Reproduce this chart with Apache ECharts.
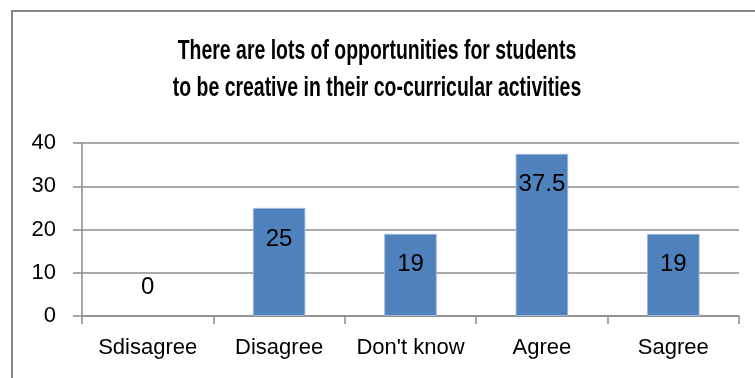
<!DOCTYPE html>
<html>
<head>
<meta charset="utf-8">
<script src="https://cdn.jsdelivr.net/npm/echarts@6/dist/echarts.min.js"></script>
<style>
  html, body { margin: 0; padding: 0; background: #fff; }
  #chart { width: 755px; height: 378px; }
</style>
</head>
<body>
<div id="chart"></div>
<script>
// Survey responses (percent)
const categories = ['Sdisagree', 'Disagree', "Don't know", 'Agree', 'Sagree'];
const percentages = [0, 25, 19, 37.5, 19];
const yTicks = [0, 10, 20, 30, 40];
const titleLines = [
  'There are lots of opportunities for students',
  'to be creative in their co-curricular activities'
];

const FONT = '"Liberation Sans", Arial, sans-serif';

const chart = echarts.init(document.getElementById('chart'), null, { renderer: 'canvas' });

// Zero-height bars get no outline; their label sits above the baseline
const barData = percentages.map(v => ({
  value: v,
  itemStyle: v === 0 ? { borderWidth: 0 } : {},
  label: v === 0
    ? { position: 'top', distance: 17 }
    : { position: 'insideTop', distance: 19 }
}));

// Condensed bold heading, one text element per line
const titleGraphics = titleLines.map((line, i) => ({
  type: 'text',
  x: 377,
  y: 52 + i * 37,
  scaleX: 0.72,
  style: {
    text: line,
    textAlign: 'center',
    textVerticalAlign: 'middle',
    fontFamily: FONT,
    fontWeight: 'bold',
    fontSize: 27,
    fill: '#000'
  },
  z: 10
}));

chart.setOption({
  animation: false,
  backgroundColor: '#fff',
  graphic: [{
    type: 'rect',
    shape: { x: 12, y: 11, width: 800, height: 400 },
    style: { fill: 'none', stroke: '#878787', lineWidth: 2 },
    z: 0
  }].concat(titleGraphics),
  grid: { left: 82, right: 16, top: 143, bottom: 62 },
  xAxis: {
    type: 'category',
    data: categories,
    axisLine: { lineStyle: { color: '#8c8c8c', width: 1.5 } },
    axisTick: { show: true, length: 8, lineStyle: { color: '#8c8c8c', width: 1.5 } },
    axisLabel: { interval: 0, fontFamily: FONT, fontSize: 22, color: '#000', margin: 21 }
  },
  yAxis: {
    type: 'value',
    min: yTicks[0],
    max: yTicks[yTicks.length - 1],
    interval: 10,
    axisLine: { show: true, lineStyle: { color: '#8c8c8c', width: 1.5 } },
    axisTick: { show: true, length: 9, lineStyle: { color: '#8c8c8c', width: 1.5 } },
    splitLine: { lineStyle: { color: '#8c8c8c', width: 1.5 } },
    axisLabel: { fontFamily: FONT, fontSize: 22, color: '#000', margin: 26 }
  },
  series: [{
    type: 'bar',
    data: barData,
    barWidth: '40%',
    itemStyle: { color: '#4F81BD', borderColor: '#9DB6DA', borderWidth: 1 },
    label: {
      show: true,
      fontFamily: FONT,
      fontSize: 24,
      color: '#000'
    }
  }]
});
</script>
</body>
</html>
